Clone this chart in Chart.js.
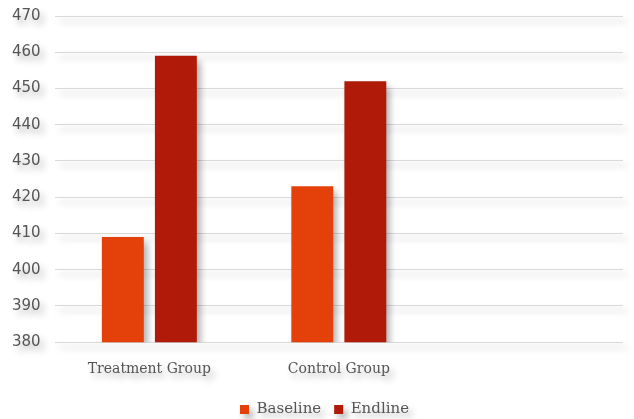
<!DOCTYPE html>
<html>
<head>
<meta charset="utf-8">
<script src="https://cdn.jsdelivr.net/npm/chart.js@4"></script>
<style>
  html, body { margin: 0; padding: 0; background: #fff; }
  #wrap { position: relative; width: 634px; height: 419px; overflow: hidden; }
  #inner { position: absolute; left: -2px; top: -7px; width: 636px; height: 434px; }
</style>
</head>
<body>
<div id="wrap"><div id="inner"><canvas id="groupChart"></canvas></div></div>
<script>
const groups = ['Treatment Group', 'Control Group', ''];
const baseline = [409, 423, null];
const endline = [459, 452, null];

// soft drop shadow on everything the chart draws
const shadowPlugin = {
  id: 'shadow',
  beforeDraw(chart) {
    const ctx = chart.ctx;
    ctx.save();
    ctx.shadowColor = 'rgba(0,0,0,0.32)';
    ctx.shadowBlur = 7;
    ctx.shadowOffsetX = 4;
    ctx.shadowOffsetY = 5;
  },
  afterDraw(chart) {
    chart.ctx.restore();
  }
};

// nudge the legend a bit to the right of the canvas centre
const legendShift = {
  id: 'legendShift',
  afterLayout(chart) {
    chart.legend.left += 14;
    chart.legend.right += 14;
  }
};

const groupChart = document.getElementById('groupChart');

new Chart(groupChart, {
  type: 'bar',
  data: {
    labels: groups,
    datasets: [
      {
        label: 'Baseline',
        data: baseline,
        backgroundColor: '#E3400A',
        categoryPercentage: 0.56,
        barPercentage: 0.79
      },
      {
        label: 'Endline',
        data: endline,
        backgroundColor: '#B01A08',
        categoryPercentage: 0.56,
        barPercentage: 0.79
      }
    ]
  },
  options: {
    responsive: true,
    maintainAspectRatio: false,
    animation: false,
    layout: {
      padding: { left: 0, right: 11, top: 0, bottom: 0 }
    },
    scales: {
      x: {
        grid: { display: false },
        border: { display: false },
        ticks: {
          color: '#555',
          font: { family: 'DejaVu Serif', size: 14 },
          padding: 11
        }
      },
      y: {
        min: 380,
        max: 470,
        grid: { color: '#d9d9d9', drawTicks: false },
        border: { display: false },
        ticks: {
          stepSize: 10,
          color: '#555',
          font: { family: 'DejaVu Sans', size: 15 },
          padding: 14
        }
      }
    },
    plugins: {
      legend: {
        position: 'bottom',
        labels: {
          color: '#555',
          font: { family: 'DejaVu Serif', size: 15 },
          boxWidth: 9,
          boxHeight: 9,
          padding: 13
        }
      },
      tooltip: { enabled: false }
    }
  },
  plugins: [shadowPlugin, legendShift]
});
</script>
</body>
</html>
